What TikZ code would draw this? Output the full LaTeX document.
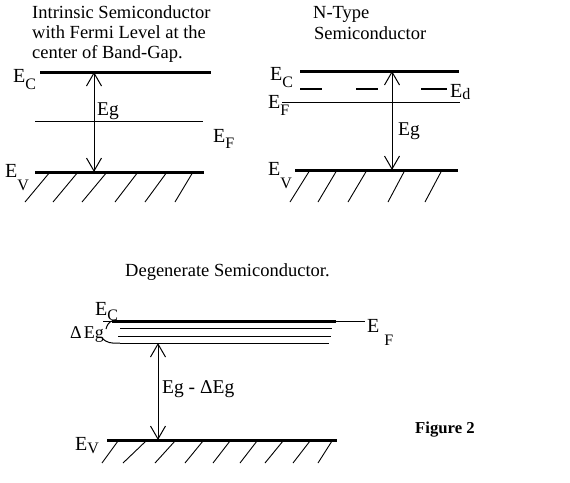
\documentclass[tikz,border=0pt]{standalone}
\usepackage{fontspec}
\setmainfont{Liberation Serif}
\usetikzlibrary{arrows.meta}

% E with a dropped subscript: [kern]{drop}{subscript}
\newcommand{\subf}{\fontsize{16}{16}\selectfont}
\newcommand{\bandlbl}[3][0pt]{E\kern#1\raisebox{-#2pt}{\subf #3}}

\tikzset{
  band/.style={line width=3pt},
  level/.style={line width=1pt},
  donor/.style={line width=2.5pt},
  hatch/.style={line width=0.9pt},
  gap/.style={line width=1pt,
    {Straight Barb[length=13pt,width=15pt]}-{Straight Barb[length=13pt,width=15pt]}},
  lbl/.style={anchor=base west, inner sep=0pt, font=\fontsize{20}{20}\selectfont},
  eg/.style={anchor=base west, inner sep=0pt, font=\fontsize{19.5}{20}\selectfont},
  title/.style={anchor=base west, inner sep=0pt, font=\fontsize{18.5}{20}\selectfont}
}

\begin{document}
\begin{tikzpicture}[x=1pt, y=-1pt]
  \useasboundingbox (0,0) rectangle (570,482);

  % intrinsic
  \node[title] (i1) at (32,18) {Intrinsic Semiconductor};
  \node[title] (i2) at (32,38) {with Fermi Level at the};
  \node[title] (i3) at (32,58) {center of Band-Gap.};
  \draw[band] (40,72) -- (211,72);
  \draw[level] (35,121) -- (203,121);
  \draw[band] (35,172) -- (204,172);
  \coordinate (iC) at (94,72);
  \coordinate (iV) at (94,172);
  \draw[gap] (iC) -- (iV);
  \node[eg] (iEg) at (97,115) {Eg};
  \node[lbl] (iEC) at (13,82) {\bandlbl{7}{C}};
  \node[lbl] (iEF) at (213,142) {\bandlbl{6}{F}};
  \node[lbl] (iEV) at (5,177) {\bandlbl{13}{V}};
  \foreach \t/\b in {50/25,78/53,107/82,138/115,167/145,193/175}
    \draw[hatch] (\t,172) -- (\b,202);

  % n-type
  \node[title] (n1) at (313,18) {N-Type};
  \node[title] (n2) at (314,39) {Semiconductor};
  \draw[band] (300,71) -- (459,71);
  \foreach \a/\b in {300/322,356/378,421/447}
    \draw[donor] (\a,89) -- (\b,89);
  \draw[level] (282,102) -- (460,102);
  \draw[band] (295,170) -- (458,170);
  \coordinate (nC) at (392,71);
  \coordinate (nV) at (392,170);
  \draw[gap] (nC) -- (nV);
  \node[eg] (nEg) at (398,135) {Eg};
  \node[lbl] (nEC) at (270,80) {\bandlbl{7}{C}};
  \node[lbl] (nEd) at (450,97) {\bandlbl{2}{d}};
  \node[lbl] (nEF) at (268,108) {\bandlbl{7}{F}};
  \node[lbl] (nEV) at (268,175) {\bandlbl{13}{V}};
  \foreach \t/\b in {310/290,337/318,367/348,405/388,442/425}
    \draw[hatch] (\t,170) -- (\b,202);

  % degenerate
  \node[title] (d1) at (125,276) {Degenerate Semiconductor.};
  \draw[level] (103,321) -- (365,321);
  \draw[band] (112,321) -- (336,321);
  \draw[level] (120,328) -- (332,328);
  \draw[level] (118,336) -- (331,336);
  \draw[level] (120,343) -- (329,343);
  \coordinate (bt) at (112,321);
  \coordinate (bb) at (120,343);
  \draw[level] (bt) .. controls (109,322) and (107,325) .. (106,329);
  \draw[level] (103,339) .. controls (106,342) and (111,344) .. (bb);
  \node[eg, font=\fontsize{18}{18}\selectfont] (dDE) at (70,338) {Δ\kern2pt Eg};
  \node[lbl] (dEC) at (95,315) {\bandlbl{5}{C}};
  \node[lbl] (dEF) at (367,332) {\bandlbl[5pt]{13}{F}};
  \draw[band] (107,440) -- (337,440);
  \coordinate (dC) at (158,343);
  \coordinate (dV) at (158,440);
  \draw[gap] (dC) -- (dV);
  \node[eg] (dEg) at (162,393) {Eg - ΔEg};
  \node[lbl] (dEV) at (75,450) {\bandlbl{3}{V}};
  \foreach \t/\b in {118/102,146/123,175/155,203/185,230/213,257/240,283/265,310/293,332/318}
    \draw[hatch] (\t,441) -- (\b,463);

  \node[anchor=base west, inner sep=0pt, font=\fontsize{16.7}{17}\selectfont\bfseries] (fig) at (415,433) {Figure 2};
\end{tikzpicture}
\end{document}
